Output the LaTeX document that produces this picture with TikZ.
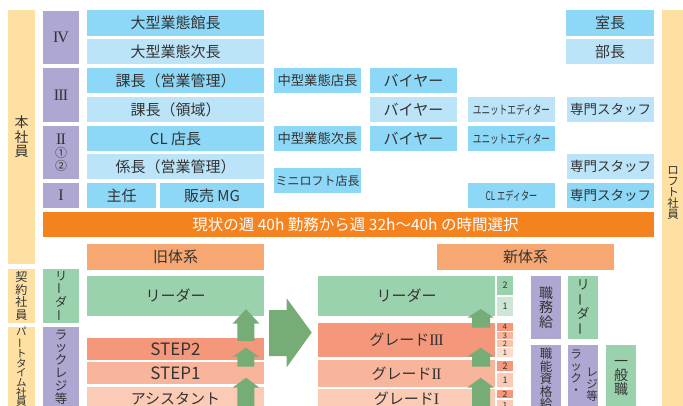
\documentclass[tikz,border=0pt]{standalone}
\usepackage{fontspec}
\usepackage{graphicx}
\setmainfont{Noto Sans CJK JP}
\newfontfamily\rmn{Liberation Serif}
\definecolor{cyanD}{HTML}{8DD7F7}
\definecolor{cyanL}{HTML}{BCE4F8}
\definecolor{purp}{HTML}{AEA7D2}
\definecolor{yel}{HTML}{FEE0A3}
\definecolor{orbar}{HTML}{F4821F}
\definecolor{hdr}{HTML}{F7A771}
\definecolor{grn}{HTML}{9AD2AD}
\definecolor{grnL}{HTML}{CDE7D6}
\definecolor{salD}{HTML}{F4977A}
\definecolor{salM}{HTML}{F8B59B}
\definecolor{salM2}{HTML}{FAC4AC}
\definecolor{salL}{HTML}{FBCBB5}
\definecolor{salXL}{HTML}{FDDCCD}
\definecolor{arr}{HTML}{76AD76}
\definecolor{txt}{HTML}{333333}
\newcommand\vb{\rotatebox[origin=c]{90}{ー}}
\newcommand\fs[1]{\fontsize{#1}{#1}\selectfont}
\newcommand\fsb[2]{\fontsize{#1}{#2}\selectfont}
% box: [opts]{name}{x1}{y1}{x2}{y2}{fill}{text}
\newcommand\B[8][]{\node[bx,fill=#7,minimum width={#5pt-#3pt},minimum height={#6pt-#4pt},#1] (#2) at ({(#3+#5)/2},{(#4+#6)/2}) {#8};}
\begin{document}
\begin{tikzpicture}[x=1pt,y=-1pt,
  bx/.style={inner sep=0pt, outer sep=0pt, draw=none, text=txt, font=\fs{15}, align=center},
  lbl/.style={inner sep=0pt, outer sep=0pt, text=txt, align=center},
  uparrow/.style={fill=arr, draw=none}]
\useasboundingbox (0,0) rectangle (683,405);
% left bars
\B[font=\fsb{14}{14.5}]{honsha}{8}{10}{35}{264}{yel}{本\\社\\員}
\B[font=\fsb{12}{12.5}]{keiyaku}{8}{269}{35}{323}{yel}{契\\約\\社\\員}
\B[font=\fsb{10.5}{9.6}]{part}{8}{327}{35}{407}{yel}{パ\\\vb\\ト\\タ\\イ\\ム\\社\\員}
% roman column
\B[font=\rmn\fs{16}]{r4}{43}{11}{79}{64}{purp}{I\kern-1.2pt V}
\B[font=\rmn\fs{16}]{r3}{43}{68}{79}{122}{purp}{I\kern-0.8pt I\kern-0.8pt I}
\B[font=\fsb{12}{13}]{r2}{43}{126}{79}{179}{purp}{{\rmn\fs{16}I\kern-0.8pt I}\\①\\②}
\B[font=\rmn\fs{16}]{r1}{43}{183}{79}{208}{purp}{I}
\B[font=\fsb{12}{11.5}]{leader0}{43}{269}{79}{323}{grn}{リ\\\vb\\ダ\\\vb}
\B[font=\fsb{12.5}{12.8}]{rack0}{43}{327}{79}{407}{purp}{ラ\\ッ\\ク\\レ\\ジ\\等}
% main column
\B{kancho}{87}{10}{264}{36}{cyanD}{大型業態館長}
\B{jicho}{87}{39}{264}{64}{cyanL}{大型業態次長}
\B{kacho1}{87}{68}{264}{93}{cyanD}{課長（営業管理）}
\B{kacho2}{87}{97}{264}{122}{cyanL}{課長（領域）}
\B{cl}{87}{126}{264}{151}{cyanD}{CL 店長}
\B{kakari}{87}{154}{264}{179}{cyanL}{係長（営業管理）}
\B{shunin}{87}{183}{156}{208}{cyanD}{主任}
\B{hanbai}{160}{183}{264}{208}{cyanD}{販売 MG}
% middle columns
\B[font=\fs{13.3}]{chuten}{274}{68}{361}{93}{cyanD}{中型業態店長}
\B[font=\fs{13.3}]{chuji}{274}{126}{361}{151}{cyanD}{中型業態次長}
\B[font=\fs{12}]{mini}{274}{168}{361}{193}{cyanD}{ミニロフト店長}
\B{buy1}{370}{68}{457}{93}{cyanD}{バイヤー}
\B{buy2}{370}{97}{457}{122}{cyanL}{バイヤー}
\B{buy3}{370}{126}{457}{151}{cyanD}{バイヤー}
\B{ue1}{468}{97}{555}{122}{cyanL}{\scalebox{0.72}[1]{\fs{12}ユニットエディター}}
\B{ue2}{468}{126}{555}{151}{cyanD}{\scalebox{0.72}[1]{\fs{12}ユニットエディター}}
\B{cle}{468}{183}{555}{208}{cyanD}{\scalebox{0.68}[1]{\fs{12}CL エディター}}
\B{shitsu}{566}{10}{654}{36}{cyanD}{室長}
\B{bucho}{566}{39}{654}{64}{cyanL}{部長}
\B[font=\fs{13.5}]{senmon1}{567}{97}{654}{122}{cyanL}{専門スタッフ}
\B[font=\fs{13.5}]{senmon2}{567}{154}{654}{179}{cyanL}{専門スタッフ}
\B[font=\fs{13.5}]{senmon3}{567}{183}{654}{208}{cyanD}{専門スタッフ}
% right bar
\B{loft}{662}{10}{684}{406}{yel}{}
\node[lbl, font=\fsb{11.5}{10.8}] (loftt) at (673,193) {ロ\\フ\\ト\\社\\員};
% time bar and headers
\B[text=white, font=\fs{15.5}]{jikan}{43}{212}{654}{237}{orbar}{\hspace*{14pt}現状の週 40h 勤務から週 32h～40h の時間選択}
\B{old}{87}{244}{264}{270}{hdr}{旧体系}
\B{new}{437}{244}{614}{270}{hdr}{新体系}
% old system
\B{leader1}{87}{276}{264}{316}{grn}{リーダー}
\B[font=\fs{17}]{step2}{87}{338}{264}{360}{salD}{STEP2}
\B[font=\fs{17}]{step1}{87}{362}{264}{384}{salM}{STEP1}
\B{assist}{87}{387}{264}{410}{salL}{アシスタント}
% new system
\B{leader2}{318}{276}{495}{316}{grn}{リーダー}
\B{g3}{318}{323}{495}{357}{salD}{グレード{\rmn\fs{16}I\kern-0.8pt I\kern-0.8pt I}}
\B{g2}{318}{360}{495}{387}{salM}{グレード{\rmn\fs{16}I\kern-0.8pt I}}
\B{g1}{318}{389}{495}{408}{salL}{グレード{\rmn\fs{16}I}}
% small grade boxes
\B[font=\fs{9}]{l2}{497}{276}{513}{295}{grn}{2}
\B[font=\fs{9}]{l1}{497}{297}{513}{316}{grnL}{1}
\B[font=\fs{7.5}]{g3d}{497}{323}{513}{331}{salD}{4}
\B[font=\fs{7.5}]{g3c}{497}{332}{513}{339}{salM}{3}
\B[font=\fs{7.5}]{g3b}{497}{339.6}{513}{347}{salM2}{2}
\B[font=\fs{7.5}]{g3a}{497}{348}{513}{357}{salXL}{1}
\B[font=\fs{9}]{g2b}{497}{361}{513}{371}{salD}{2}
\B[font=\fs{9}]{g2a}{497}{373}{513}{387}{salL}{1}
\B[font=\fs{8.5}]{g1b}{497}{390}{513}{398}{salD}{2}
\B[font=\fs{8.5}]{g1a}{497}{400}{513}{410}{salL}{1}
% right columns
\B[font=\fsb{14}{14.5}]{shokumu}{531}{276}{561}{339}{purp}{職\\務\\給}
\B[font=\fsb{13}{13}]{leader3}{568}{276}{598}{339}{grn}{リ\\\vb\\ダ\\\vb}
\B[font=\fsb{12.5}{12.5}]{shokuno}{531}{345}{561}{413}{purp}{職\\能\\資\\格\\給}
\B{rack1}{568}{345}{598}{413}{purp}{}
\node[lbl, font=\fsb{11.5}{12}] (rack1a) at (576,372) {ラ\\ッ\\ク\\・};
\node[lbl, font=\fsb{11.5}{12}] (rack1b) at (592,385) {レ\\ジ\\等};
\B[font=\fsb{14}{14}]{ippan}{606}{345}{636}{411}{grn}{一\\般\\職}
% arrows
\fill[uparrow] (237.3,341) -- (237.3,323.5) -- (232.7,323.5) -- (246,309) -- (259.3,323.5) -- (254.3,323.5) -- (254.3,341) -- cycle;
\fill[uparrow] (237.3,366.7) -- (237.3,356.7) -- (232.7,356.7) -- (246,347.7) -- (259.3,356.7) -- (254.3,356.7) -- (254.3,366.7) -- cycle;
\fill[uparrow] (237.3,406) -- (237.3,387.5) -- (232.7,387.5) -- (246,377.7) -- (259.3,387.5) -- (254.3,387.5) -- (254.3,406) -- cycle;
\fill[uparrow] (472,327.7) -- (472,317.7) -- (467.3,317.7) -- (480.7,309) -- (494,317.7) -- (490,317.7) -- (490,327.7) -- cycle;
\fill[uparrow] (472,366.7) -- (472,356.7) -- (467.3,356.7) -- (480.7,347.7) -- (494,356.7) -- (490,356.7) -- (490,366.7) -- cycle;
\fill[uparrow] (472,406) -- (472,387.5) -- (467.3,387.5) -- (480.7,377.7) -- (494,387.5) -- (490,387.5) -- (490,406) -- cycle;
\fill[uparrow] (269,310) -- (286.7,310) -- (286.7,298.3) -- (311.7,332.5) -- (286.7,367.3) -- (286.7,356) -- (269,356) -- cycle;
\end{tikzpicture}
\end{document}
